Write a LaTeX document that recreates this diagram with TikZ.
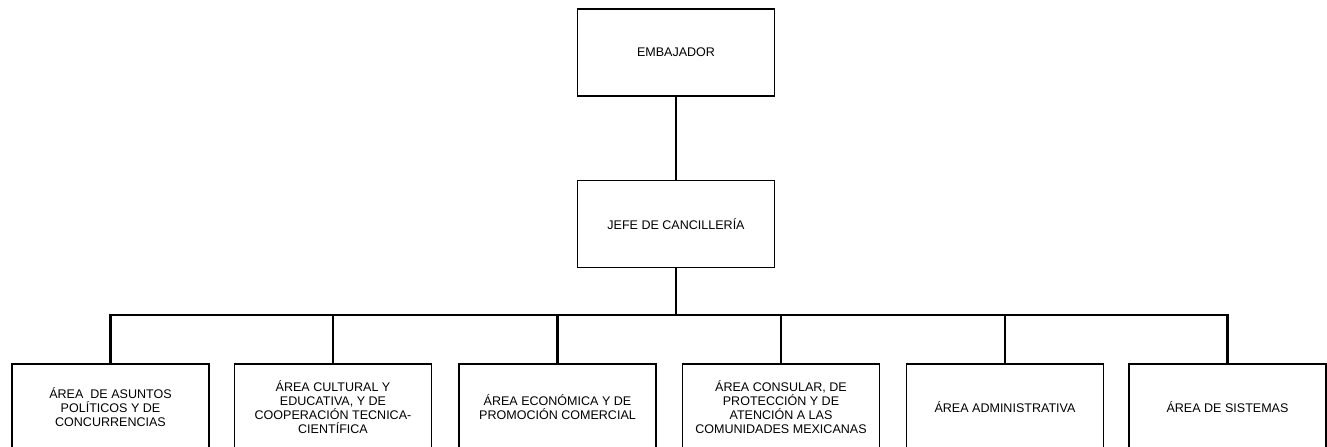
\documentclass[tikz,border=0pt]{standalone}
\usepackage{fontspec}
\setmainfont{Liberation Sans}
\begin{document}
\begin{tikzpicture}[x=0.75pt,y=-0.75pt,
  box/.style={draw,line width=0.8pt,minimum width=197*0.75pt,align=center,
    font=\fontsize{9.4}{10.4}\selectfont,inner sep=0pt},
  topbox/.style={box,minimum height=87*0.75pt},
  subbox/.style={box,minimum height=86*0.75pt},
  conn/.style={line width=1.6pt}]
\useasboundingbox (0,0) rectangle (1327,446);
\clip (0,0) rectangle (1327,446);
\fill[white] (0,0) rectangle (1327,446);
\node[topbox] (emb) at (676,52.5) {EMBAJADOR};
\node[topbox] (jefe) at (676,224) {JEFE DE CANCILLERÍA};
\node[subbox] (a1) at (110.5,407) {ÁREA\ \ DE ASUNTOS\\POLÍTICOS Y DE\\CONCURRENCIAS};
\node[subbox] (a2) at (333,407) {ÁREA CULTURAL Y\\EDUCATIVA, Y DE\\COOPERACIÓN TECNICA-\\CIENTÍFICA};
\node[subbox] (a3) at (557.5,407) {ÁREA ECONÓMICA Y DE\\PROMOCIÓN COMERCIAL};
\node[subbox] (a4) at (781,407) {ÁREA CONSULAR, DE\\PROTECCIÓN Y DE\\ATENCIÓN A LAS\\COMUNIDADES MEXICANAS};
\node[subbox] (a5) at (1005,407) {ÁREA ADMINISTRATIVA};
\node[subbox] (a6) at (1227.5,407) {ÁREA DE SISTEMAS};
\coordinate (bar) at (676,315);
\draw[conn] (emb.south) -- (jefe.north);
\draw[conn] (jefe.south) -- (bar);
\draw[conn] (a1.north) |- (bar);
\draw[conn] (a6.north) |- (bar);
\foreach \n in {a2,a3,a4,a5} \draw[conn] (\n.north) -- (\n.north |- bar);
\end{tikzpicture}
\end{document}
